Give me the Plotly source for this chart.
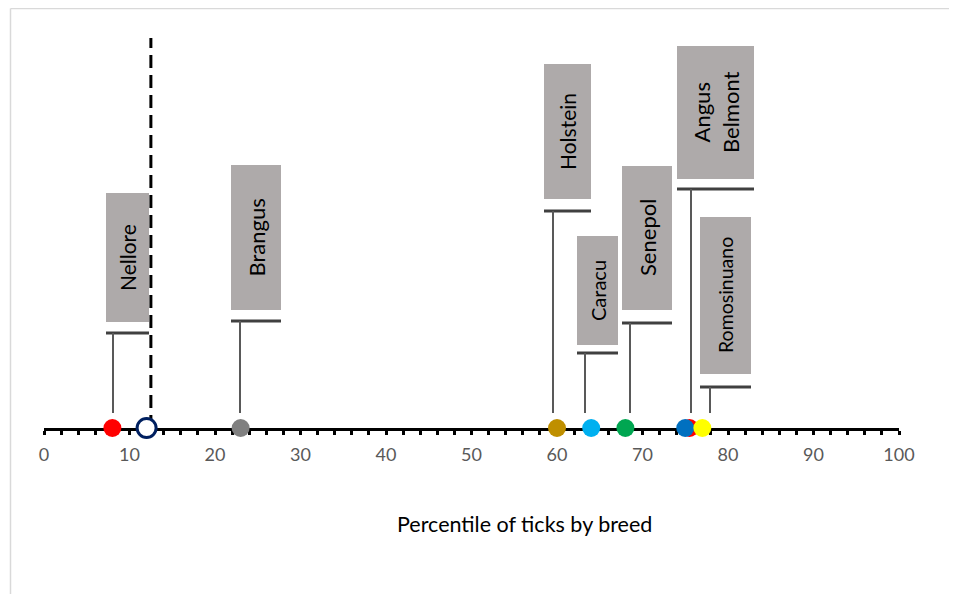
import plotly.graph_objects as go

# ---------------- data ----------------
breeds = ["Nellore", "Reference", "Brangus", "Holstein", "Caracu", "Senepol",
          "Belmont", "Angus", "Romosinuano"]
percentile = [8, 12, 23, 60, 64, 68, 75.5, 75, 77]
marker_fill = ["#FF0000", "#FFFFFF", "#808080", "#BF8F00", "#00B0F0", "#00A651",
               "#FF0000", "#0070C0", "#FFFF00"]
marker_edge = ["#FF0000", "#002060", "#808080", "#BF8F00", "#00B0F0", "#00A651",
               "#FF0000", "#0070C0", "#FFFF00"]
cutoff = 12.5
x_tick_vals = [0, 10, 20, 30, 40, 50, 60, 70, 80, 90, 100]
x_title = "Percentile of ticks by breed"

# ---------------- label layout (page-pixel geometry of the callouts) ----------------
label_text = ["Nellore", "Brangus", "Holstein", "Caracu", "Senepol", "Angus<br>Belmont", "Romosinuano"]
label_leader_px = [113, 240, 553, 585, 630, 691, 710]
label_box_x0_px = [106, 231, 544, 577, 622, 677, 700]
label_box_x1_px = [149, 281, 591, 618, 672, 754, 751]
label_box_top_px = [193, 165, 64, 236, 166, 46, 217]
label_box_bot_px = [322, 310, 199, 345, 310, 179, 374]
label_bar_px = [333, 321, 211, 353, 323, 189, 387]
label_font = [21, 22, 21, 20, 22, 22, 19.5]

OFF = 8                      # page body margin
W, H = 957 - 2 * OFF, 602 - 2 * OFF
AXIS_PAGE = 428              # page y of the axis (plot bottom)
X0_PAGE, X100_PAGE = 44, 899
L = X0_PAGE - OFF
R = W - (X100_PAGE - OFF)
B = H - (AXIS_PAGE - OFF)
T = 0
PX_PER_UNIT = (X100_PAGE - X0_PAGE) / 100.0
PLOT_W = W - L - R
PLOT_H = H - T - B


def xd(px):
    return (px - X0_PAGE) / PX_PER_UNIT


def yd(py):
    return AXIS_PAGE - py


def xp(px):
    return (px - X0_PAGE) / PLOT_W


def yp(py):
    return (AXIS_PAGE - py) / PLOT_H


fig = go.Figure()

shapes = []
annotations = []
for i, txt in enumerate(label_text):
    x0, x1 = xd(label_box_x0_px[i]), xd(label_box_x1_px[i])
    shapes.append(dict(type="rect", xref="x", yref="y", x0=x0, x1=x1,
                       y0=yd(label_box_bot_px[i]), y1=yd(label_box_top_px[i]),
                       fillcolor="#AEAAAA", line=dict(width=0), layer="below"))
    shapes.append(dict(type="line", xref="x", yref="y", x0=x0, x1=x1,
                       y0=yd(label_bar_px[i]), y1=yd(label_bar_px[i]),
                       line=dict(color="#404040", width=3), layer="below"))
    lx = xd(label_leader_px[i])
    shapes.append(dict(type="line", xref="x", yref="y", x0=lx, x1=lx,
                       y0=15, y1=yd(label_bar_px[i]),
                       line=dict(color="#595959", width=2), layer="below"))
    annotations.append(dict(x=(x0 + x1) / 2, y=(yd(label_box_bot_px[i]) + yd(label_box_top_px[i])) / 2,
                            xref="x", yref="y", text=txt, showarrow=False, textangle=-90,
                            font=dict(family="Lato, Open Sans, sans-serif", size=label_font[i], color="#000000"),
                            align="center"))

# axis title (offset to the right, as in the original)
annotations.append(dict(x=xp(524), y=yp(524), xref="paper", yref="paper", text=x_title,
                        showarrow=False, xanchor="center", yanchor="middle",
                        font=dict(family="Lato, Open Sans, sans-serif", size=21.5, color="#000000")))

# dashed cutoff line
shapes.append(dict(type="line", xref="x", yref="y", x0=cutoff, x1=cutoff, y0=0, y1=yd(38),
                   line=dict(color="#000000", width=3, dash="13px,7px"), layer="below"))

# chart frame (top and left edges visible)
shapes.append(dict(type="line", xref="paper", yref="paper", x0=xp(10.5), x1=xp(975),
                   y0=yp(8.5), y1=yp(8.5), line=dict(color="#D9D9D9", width=1.5), layer="below"))
shapes.append(dict(type="line", xref="paper", yref="paper", x0=xp(10.5), x1=xp(10.5),
                   y0=yp(8.5), y1=yp(640), line=dict(color="#D9D9D9", width=1.5), layer="below"))

fig.add_trace(go.Scatter(
    x=percentile, y=[0] * len(percentile), mode="markers", text=breeds,
    marker=dict(size=[18, 19, 18, 18, 18, 18, 18, 18, 18], color=marker_fill, opacity=1,
                line=dict(color=marker_edge, width=[0, 3, 0, 0, 0, 0, 0, 0, 0]),
                symbol="circle"),
    cliponaxis=False, hoverinfo="text+x", showlegend=False))

fig.update_layout(
    width=W, height=H,
    margin=dict(l=L, r=R, t=T, b=B, pad=0),
    paper_bgcolor="white", plot_bgcolor="white",
    shapes=shapes, annotations=annotations,
    showlegend=False,
    xaxis=dict(range=[0, 100], tickvals=x_tick_vals, showgrid=False, zeroline=False,
               showline=True, linecolor="#000000", linewidth=3, layer="below traces",
               ticks="outside", ticklen=4, tickwidth=3, tickcolor="#000000",
               minor=dict(dtick=2, ticks="outside", ticklen=4, tickwidth=3, tickcolor="#000000"),
               tickfont=dict(family="Lato, Open Sans, sans-serif", size=18, color="#595959"),
               ticklabelstandoff=4),
    yaxis=dict(range=[0, PLOT_H], visible=False, fixedrange=True),
)

fig.write_html("out.html")
